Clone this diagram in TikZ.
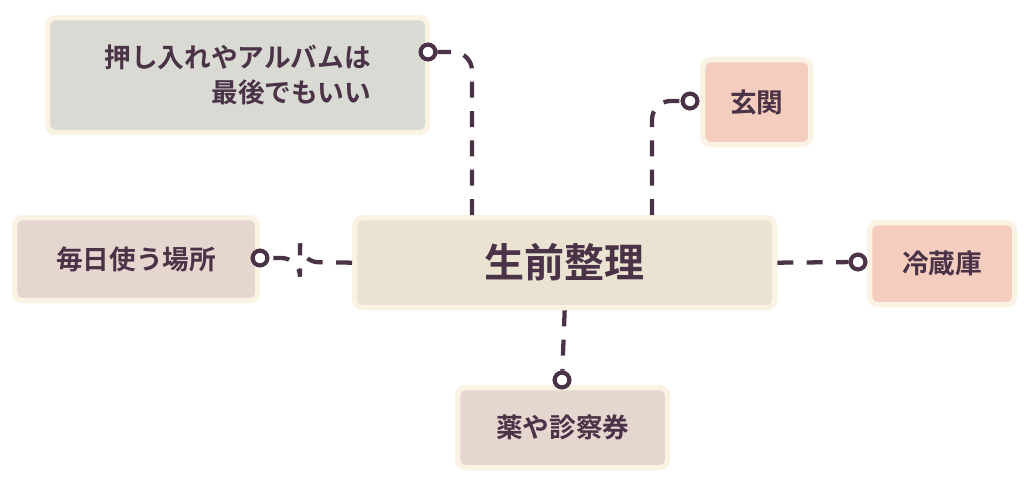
\documentclass[tikz,border=0pt]{standalone}
\usepackage{fontspec}
\setmainfont{Noto Sans CJK JP}[BoldFont={Noto Sans CJK JP Bold}]
\usetikzlibrary{positioning}
\definecolor{ink}{HTML}{4A3347}
\definecolor{rim}{HTML}{FAF3E4}
\definecolor{grayfill}{HTML}{D9DAD3}
\definecolor{rosefill}{HTML}{E6D6D0}
\definecolor{peachfill}{HTML}{F5CDBE}
\definecolor{centerfill}{HTML}{EAE3D2}
\begin{document}
\begin{tikzpicture}[
    x=0.75pt, y=-0.75pt,
    box/.style={rectangle, draw=rim, line width=4pt, rounded corners=6pt, text=ink, font=\bfseries\fontsize{20}{26}\selectfont, anchor=north west, inner sep=0pt},
    link/.style={draw=ink, line width=3.2pt, dash pattern=on 12pt off 10pt, rounded corners=14pt},
    dot/.style={circle, draw=ink, fill=white, line width=3pt, minimum size=11pt, inner sep=0pt}
]
\useasboundingbox (0,0) rectangle (1024,476);
\node[box, fill=grayfill, minimum width=380*0.75pt, minimum height=115*0.75pt, align=right] (storage) at (45,15) {押し入れやアルバムは\\最後でもいい};
\node[box, fill=peachfill, minimum width=108*0.75pt, minimum height=85*0.75pt] (hall) at (700,57) {玄関};
\node[box, fill=centerfill, minimum width=420*0.75pt, minimum height=90*0.75pt, font=\bfseries\fontsize{30}{36}\selectfont] (main) at (352,215) {生前整理};
\node[box, fill=rosefill, minimum width=243*0.75pt, minimum height=83*0.75pt] (daily) at (12,215) {毎日使う場所};
\node[box, fill=peachfill, minimum width=145*0.75pt, minimum height=82*0.75pt] (fridge) at (867,220) {冷蔵庫};
\node[box, fill=rosefill, minimum width=210*0.75pt, minimum height=80*0.75pt] (meds) at (455,385) {薬や診察券};

% end points of the connectors
\node[dot] (dstorage) at (428,52) {};
\node[dot] (dhall) at (690,101) {};
\node[dot] (ddaily) at (260,258) {};
\node[dot] (dfridge) at (858,262) {};
\node[dot] (dmeds) at (562,380) {};

\begin{scope}[on background layer/.try]
\draw[link] (main.north west -| 472,0) -- (472,52) -- (dstorage);
\draw[link] (main.north west -| 652,0) -- (652,101) -- (dhall);
\draw[link] (main.west) -- (300,262) -- (300,258) -- (ddaily);
\draw[link] (main.east) -- (dfridge);
\draw[link] (main.south) -- (dmeds);
\end{scope}
\node[dot] at (dstorage) {};
\node[dot] at (dhall) {};
\node[dot] at (ddaily) {};
\node[dot] at (dfridge) {};
\node[dot] at (dmeds) {};
\end{tikzpicture}
\end{document}
